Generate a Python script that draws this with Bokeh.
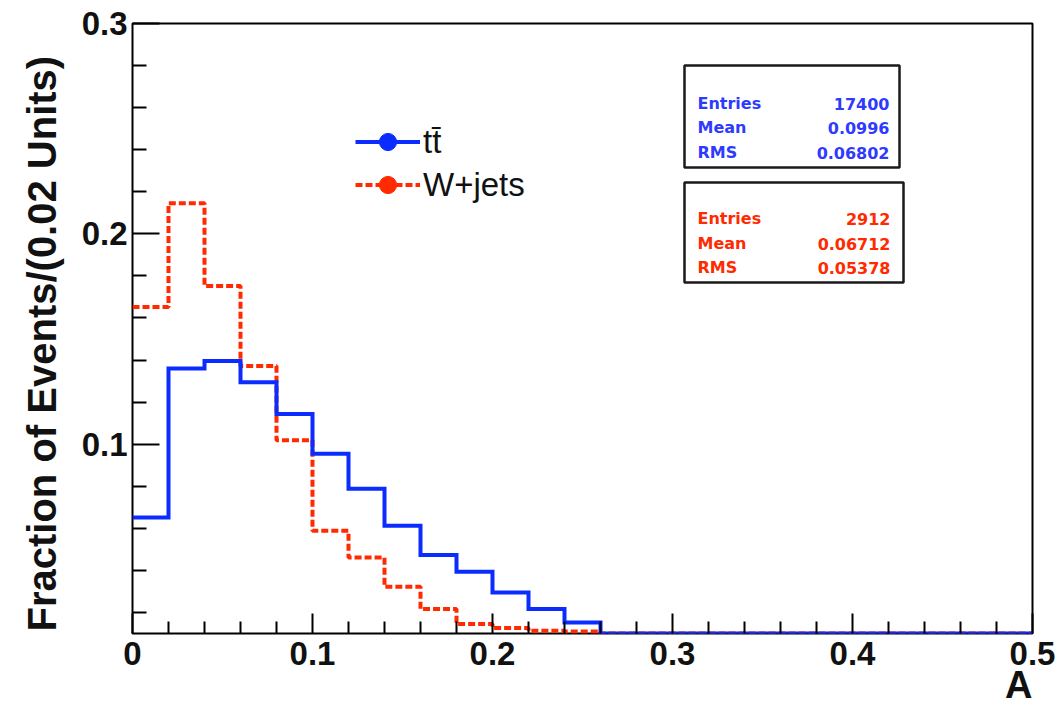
import numpy as np
from bokeh.plotting import figure
from bokeh.models import Range1d, FixedTicker, Legend, LegendItem, BoxAnnotation, Label, Title
from bokeh.embed import file_html
from bokeh.resources import INLINE

# ---------------- data ----------------
bin_width = 0.02
n_bins = 25
ttbar = [0.0651, 0.1360, 0.1395, 0.1295, 0.1144, 0.0954, 0.0788, 0.0612, 0.0473,
         0.0393, 0.0295, 0.0216, 0.0152, 0.0095, 0.0065, 0.0040, 0.0027, 0.0018,
         0.0012, 0.0008, 0.0005, 0.0004, 0.0003, 0.0002, 0.0001]
wjets = [0.1652, 0.2145, 0.1752, 0.1372, 0.1019, 0.0588, 0.0461, 0.0322, 0.0216,
         0.0145, 0.0126, 0.0113, 0.0110, 0.0, 0.0, 0.0, 0.0, 0.0,
         0.0, 0.0, 0.0, 0.0, 0.0, 0.0, 0.0]
x_tick_values = [0.0, 0.1, 0.2, 0.3, 0.4, 0.5]
x_tick_labels = ["0", "0.1", "0.2", "0.3", "0.4", "0.5"]
y_tick_values = [0.1, 0.2, 0.3]
y_tick_labels = ["0.1", "0.2", "0.3"]
series_names = ["tt\u0304", "W+jets"]
stat_names = ["Entries", "Mean", "RMS"]
ttbar_stats = ["17400", "0.0996", "0.06802"]
wjets_stats = ["2912", "0.06712", "0.05378"]
x_title = "A"
y_title = "Fraction of Events/(0.02 Units)"

X_MIN, X_MAX = 0.0, 0.5
Y_MIN, Y_MAX = 0.01, 0.3

BLUE = "#0B2CFF"
RED = "#FF2A00"
BLUE_TXT = "#2F3AFF"
INK = "#111111"

# ---------------- figure ----------------
p = figure(width=1060, height=710, x_range=Range1d(X_MIN, X_MAX), y_range=Range1d(Y_MIN, Y_MAX),
           output_backend="svg", toolbar_location=None,
           min_border_left=132, min_border_right=28, min_border_top=23, min_border_bottom=77)
p.grid.visible = False
p.background_fill_color = "white"
p.border_fill_color = "white"
p.outline_line_color = "black"
p.outline_line_width = 2

# frame px -> data helpers (for annotation placement)
FL, FR, FT, FB = 132.0, 1032.0, 23.0, 633.0
def dx(px):
    return X_MIN + (px - FL) / (FR - FL) * (X_MAX - X_MIN)
def dy(py):
    return Y_MAX - (py - FT) / (FB - FT) * (Y_MAX - Y_MIN)

# ---------------- axes ----------------
xminor = [round(i * bin_width, 2) for i in range(n_bins + 1)]
xminor = [t for t in xminor if min(abs(t - m) for m in x_tick_values) > 1e-9]
yminor = [round(0.02 * i, 2) for i in range(1, 16)]
yminor = [t for t in yminor if min(abs(t - m) for m in y_tick_values) > 1e-9]

p.xaxis.ticker = FixedTicker(ticks=x_tick_values, minor_ticks=xminor)
p.yaxis.ticker = FixedTicker(ticks=y_tick_values, minor_ticks=yminor)
p.xaxis.major_label_overrides = dict(zip(x_tick_values, x_tick_labels))
p.yaxis.major_label_overrides = dict(zip(y_tick_values, y_tick_labels))

for ax in (p.xaxis, p.yaxis):
    ax.axis_line_color = None
    ax.major_tick_out = 0
    ax.minor_tick_out = 0
    ax.major_tick_line_color = "black"
    ax.minor_tick_line_color = "black"
    ax.major_tick_line_width = 2
    ax.minor_tick_line_width = 2
    ax.major_label_text_font = "Liberation Sans"
    ax.major_label_text_font_style = "bold"
    ax.major_label_text_font_size = "33px"
    ax.major_label_text_color = INK

p.xaxis.major_tick_in = 20
p.xaxis.minor_tick_in = 12
p.yaxis.major_tick_in = 27
p.yaxis.minor_tick_in = 14
p.xaxis.major_label_standoff = 8
p.yaxis.major_label_standoff = 5

# axis titles as side titles (so they can be aligned like ROOT's)
ytitle = Title(text=y_title, align="left", offset=2, standoff=30,
               text_font="Liberation Sans", text_font_style="bold",
               text_font_size="40px", text_color=INK)
p.add_layout(ytitle, "left")
xtitle = Title(text=x_title, align="right", offset=0, standoff=-11,
               text_font="Liberation Sans", text_font_style="bold",
               text_font_size="38px", text_color=INK)
p.add_layout(xtitle, "below")

# ---------------- histograms ----------------
edges = [round(i * bin_width, 2) for i in range(n_bins + 1)]
def step_y(vals):
    v = np.maximum(np.array(vals, dtype=float), Y_MIN)
    return list(v) + [v[-1]]

r_wj = p.step(x=edges, y=step_y(wjets), mode="after", line_color=RED, line_width=4, line_dash="7 3")
r_tt = p.step(x=edges, y=step_y(ttbar), mode="after", line_color=BLUE, line_width=4, line_join="miter")

# legend markers: one point each, placed outside the visible range (only the legend sample shows)
m_tt = p.scatter(x=[X_MIN - 1], y=[Y_MIN - 1], marker="circle", size=12, fill_color=BLUE, line_color=BLUE)
m_wj = p.scatter(x=[X_MIN - 1], y=[Y_MIN - 1], marker="circle", size=12, fill_color=RED, line_color=RED)
legend = Legend(items=[LegendItem(label=series_names[0], renderers=[r_tt, m_tt]),
                       LegendItem(label=series_names[1], renderers=[r_wj, m_wj])],
                location=(223, 427), glyph_width=65, glyph_height=43, spacing=0,
                padding=0, margin=0, label_standoff=3,
                label_text_font="Liberation Sans", label_text_font_size="33px",
                label_text_color=INK, border_line_color=None, background_fill_alpha=0)
p.add_layout(legend)

# ---------------- stat boxes ----------------
boxes = [
    (684, 899, 65, 167, BLUE_TXT, ttbar_stats, [103, 127, 152], 889),
    (684, 903, 182, 282, RED, wjets_stats, [218, 243, 267], 890),
]
for (bl, br, bt, bb, col, stats, rows, rx) in boxes:
    p.add_layout(BoxAnnotation(left=dx(bl), right=dx(br), top=dy(bt), bottom=dy(bb),
                               fill_color="white", fill_alpha=1.0,
                               line_color="#1a1a1a", line_alpha=1.0, line_width=2.5))
    for name, val, ry in zip(stat_names, stats, rows):
        p.add_layout(Label(x=dx(697), y=dy(ry), text=name, text_align="left",
                           text_baseline="middle", text_font="DejaVu Sans",
                           text_font_style="bold", text_font_size="16px", text_color=col))
        p.add_layout(Label(x=dx(rx), y=dy(ry), text=val, text_align="right",
                           text_baseline="middle", text_font="DejaVu Sans",
                           text_font_style="bold", text_font_size="16px", text_color=col))

open("out.html", "w").write(file_html(p, INLINE))
